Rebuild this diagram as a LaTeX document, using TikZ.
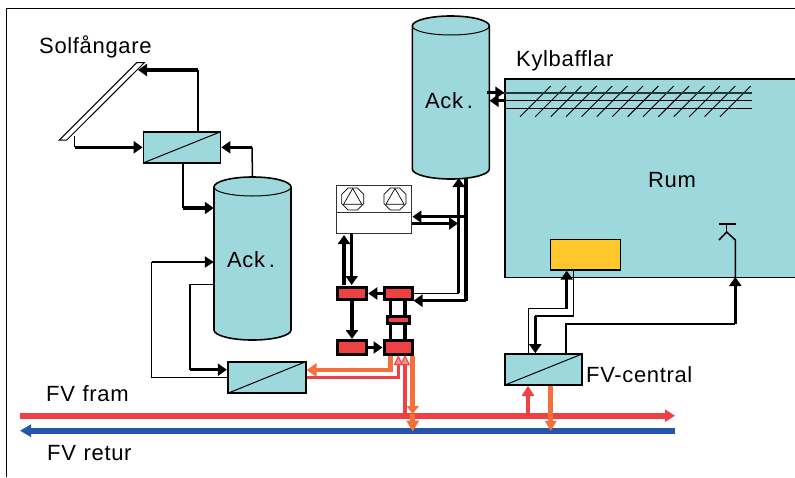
\documentclass[tikz,border=0pt]{standalone}
\usepackage{fontspec}
\setmainfont{Liberation Sans}[LetterSpace=3]
\usetikzlibrary{arrows.meta,shapes.geometric}
\definecolor{teal_f}{HTML}{9DD8DC}
\definecolor{red_f}{HTML}{EF4144}
\definecolor{orange_f}{HTML}{F4703A}
\definecolor{blue_f}{HTML}{2356A6}
\definecolor{yellow_f}{HTML}{FFC72C}
\tikzset{
  txt/.style = {inner sep=0pt, font=\fontsize{22}{24}\selectfont},
  hex/.style = {draw=black, fill=teal_f, line width=1.7pt, inner sep=0pt, minimum width=77pt, minimum height=31pt,
    path picture={\draw[line width=1pt] (path picture bounding box.south west) -- (path picture bounding box.north east);}},
  tank/.style = {draw=black, line width=1.6pt},
  tank_n/.style = {inner sep=0pt, minimum width=77pt, minimum height=163pt},
  valve/.style = {draw=black, fill=red_f, line width=3pt, inner sep=0pt},
  fan/.style = {regular polygon, regular polygon sides=8, draw=black, line width=0.7pt, inner sep=0pt, minimum size=24pt},
  fan_t/.style = {regular polygon, regular polygon sides=3, draw=black, line width=0.7pt, inner sep=0pt, minimum size=21pt},
  pipe/.style = {line width=1.5pt},
  pipe_b/.style = {line width=3.5pt, -{Triangle[length=9pt,width=12pt]}},
  pipe_h/.style = {line width=3.5pt},
}
\newcommand{\acktank}[3]{
  \node [tank_n] (#1) at (#2,#3+81.5) {};
  \draw[tank, fill=teal_f] (#2-38.5,#3+10) arc[start angle=180, end angle=0, x radius=38.5pt, y radius=10pt]
    -- (#2+38.5,#3+153) arc[start angle=0, end angle=-180, x radius=38.5pt, y radius=10pt] -- cycle;
  \draw[tank, line width=1pt] (#2-38.5,#3+10) arc[start angle=180, end angle=360, x radius=38.5pt, y radius=9pt];
}

\begin{document}
\begin{tikzpicture}[x=1pt,y=-1pt]
  \useasboundingbox (0,0) rectangle (795,477);
  \coordinate (frame_a) at (6,477);
  \coordinate (frame_b) at (6,8);
  \coordinate (frame_c) at (795,8);
  \draw[line width=1pt] (frame_a) -- (frame_b) -- (frame_c);

  % room and cooling coil
  \node [draw=black, fill=teal_f, line width=1.4pt, minimum width=295pt, minimum height=198.7pt, inner sep=0pt] (room) at (652.5,178.4) {};
  \node [txt] (rum) at (672,180) {Rum};
  \node [txt, anchor=west] (kyl) at (516,61) {Kylbafflar};
  \foreach \i in {0,...,13}
    \draw[line width=0.9pt] (520+15.38*\i,116.7) -- (550.7+15.38*\i,86);
  \coordinate (coil_a) at (751.7,92.7);
  \coordinate (coil_b) at (751.7,100.7);
  \coordinate (coil_c) at (751.7,108.7);

  % tanks
  \acktank{tank_r}{450.8}{16}
  \acktank{tank_l}{252.5}{177}
  \node [txt] (ack_r) at (449,101) {Ack\,.};
  \node [txt] (ack_l) at (251,260) {Ack\,.};
  \draw[line width=2pt, black!75!teal_f] (tank_r.east |- coil_a) -- (coil_a);
  \draw[line width=1pt] (tank_r.east |- coil_b) -- (coil_b);
  \draw[line width=1pt] (room.west |- coil_c) -- (coil_c);
  \draw[pipe_b] (487,92.7) -- (room.west |- coil_a);
  \draw[pipe_b] (room.west |- coil_b) -- (tank_r.east |- coil_b);

  % solar loop
  \coordinate (sol_a) at (59.3,140);
  \coordinate (sol_b) at (66.7,140);
  \coordinate (sol_c) at (144.3,62.7);
  \coordinate (sol_d) at (136.7,62.7);
  \draw[fill=white, line width=1pt] (sol_a) -- (sol_b) -- (sol_c) -- (sol_d) -- cycle;
  \node [txt, anchor=west] (solf) at (39,47) {Solfångare};
  \node [hex] (hx_sol) at (182,147.3) {};
  \coordinate (j_a) at (198,70);
  \coordinate (j_b) at (74.5,147.3);
  \coordinate (j_c) at (252,147.3);
  \coordinate (j_d) at (183,208);
  \draw[pipe] (hx_sol.north -| j_a) -- (j_a);
  \draw[pipe_b] (j_a) -- (138,70);
  \draw[pipe] (74.5,136) -- (j_b);
  \draw[pipe_b] (j_b) -- (hx_sol.west);
  \draw[pipe] (tank_l.north) -- (j_c);
  \draw[pipe_b] (j_c) -- (hx_sol.east);
  \draw[pipe] (hx_sol.south -| j_d) -- (j_d);
  \draw[pipe_b] (j_d) -- (tank_l.west |- j_d);

  % chiller
  \node [draw=black!80, fill=white, line width=1.4pt, minimum width=75pt, minimum height=47.6pt, inner sep=0pt] (chiller) at (374.2,209.5) {};
  \coordinate (div_a) at (336.7,212.3);
  \coordinate (div_b) at (411.7,212.3);
  \draw[line width=1.4pt, black!80] (div_a) -- (div_b);
  \node [fan] (fan_a) at (352.7,199) {};
  \node [fan] (fan_b) at (395,199) {};
  \node [fan_t] (fan_at) at (352.7,199) {};
  \node [fan_t] (fan_bt) at (395,199) {};

  % valves
  \node [valve, minimum width=29.6pt, minimum height=12pt] (v_a) at (352,293.5) {};
  \node [valve, minimum width=28pt, minimum height=12pt] (v_b) at (398,293.5) {};
  \node [valve, minimum width=29.6pt, minimum height=14pt] (v_d) at (352,347.5) {};
  \node [valve, minimum width=28pt, minimum height=14pt] (v_e) at (398,347.5) {};
  \draw[pipe_h] (390.7,301) -- (390.7,339);
  \draw[pipe_h] (405,301) -- (405,339);
  \node [valve, minimum width=22pt, minimum height=7pt] (v_c) at (398,320.3) {};
  \draw[pipe_b] (v_b.west) -- (v_a.east);
  \draw[pipe_b] (v_d.east) -- (v_e.west);
  \draw[pipe_b] (v_a.south) -- (v_d.north);
  \draw[line width=4pt, -{Triangle[length=9pt,width=12pt]}] (344,285) -- (344,235);
  \draw[pipe_b] (351.7,233) -- (351.7,285);

  % chiller, valves and upper tank
  \coordinate (j_e) at (458.7,293.3);
  \coordinate (j_f) at (466,300.7);
  \coordinate (j_v) at (466,216.7);
  \coordinate (j_w) at (458,223.5);
  \draw[pipe] (v_b.east |- j_e) -- (j_e);
  \draw[pipe_b] (j_e) -- (458.7,178);
  \draw[pipe_h] (466,178) -- (j_f);
  \draw[pipe_b] (j_f) -- (v_b.east |- j_f);
  \draw[pipe_b] (j_v) -- (chiller.east |- j_v);
  \draw[pipe_b] (chiller.east |- j_w) -- (j_w);

  % tank to lower exchanger
  \node [hex, minimum height=31.6pt, minimum width=78pt] (hx_low) at (266.7,377.5) {};
  \coordinate (j_g) at (190,284.7);
  \coordinate (j_h) at (190,369.7);
  \coordinate (j_i) at (151.7,262);
  \coordinate (j_k) at (151.7,377.3);
  \draw[pipe] (tank_l.west |- j_g) -- (j_g) -- (j_h);
  \draw[pipe_b] (j_h) -- (hx_low.west |- j_h);
  \draw[line width=2.4pt, -{Triangle[length=9pt,width=11pt]}] (j_i) -- (tank_l.west |- j_i);
  \draw[pipe] (j_i) -- (j_k) -- (hx_low.west |- j_k);

  % district heating mains
  \coordinate (fram_a) at (20,415.7);
  \coordinate (fram_b) at (675,415.7);
  \coordinate (retur_a) at (20,430.7);
  \coordinate (retur_b) at (675,430.7);
  \draw[red_f, line width=6pt, -{Triangle[length=10pt,width=12pt]}] (fram_a) -- (fram_b);
  \draw[blue_f, line width=6pt, -{Triangle[length=11pt,width=12pt]}] (retur_b) -- (retur_a);
  \node [txt, anchor=west] (fram) at (46,394) {FV\hspace{0.35em}fram};
  \node [txt, anchor=west] (retur) at (47,453) {FV\hspace{0.35em}retur};

  % district heating to valves
  \coordinate (j_l) at (390.7,370);
  \coordinate (j_m) at (398.3,377.3);
  \coordinate (j_n) at (412.7,414);
  \coordinate (j_o) at (412.7,431.7);
  \draw[orange_f, line width=4.5pt, -{Triangle[length=10pt,width=13pt]}] (v_e.south -| j_l) -- (j_l) -- (hx_low.east |- j_l);
  \draw[red_f, line width=3pt, -{Triangle[length=10pt,width=9pt,fill=white!40!red_f,line width=1pt]}] (hx_low.east |- j_m) -- (j_m) -- (398.3,355);
  \draw[red_f, line width=4.5pt, -{Triangle[length=10pt,width=10pt,fill=white!40!red_f,line width=1pt]}] (405,415.7) -- (405,355);
  \draw[orange_f, line width=4.5pt, -{Triangle[length=8pt,width=12pt]}] (v_e.south -| j_n) -- (j_n);
  \draw[orange_f, line width=4.5pt, -{Triangle[length=11pt,width=12pt]}] (j_n) -- (j_o);

  % central unit
  \node [hex, minimum height=31pt] (hx_fv) at (543.5,369.5) {};
  \node [txt, anchor=west] (fv_c) at (586,375) {FV-central};
  \coordinate (j_x) at (528,415.7);
  \coordinate (j_y) at (550.7,431);
  \draw[red_f, line width=3.5pt, -{Triangle[length=10pt,width=12pt]}] (j_x) -- (hx_fv.south -| j_x);
  \draw[orange_f, line width=4.5pt, -{Triangle[length=10pt,width=11pt]}] (hx_fv.south -| j_y) -- (j_y);

  % radiator box and tap
  \node [draw=black, fill=yellow_f, line width=1.2pt, minimum width=70.4pt, minimum height=30.7pt, inner sep=0pt] (box) at (585.5,254.7) {};
  \coordinate (j_p) at (528.3,308.7);
  \coordinate (j_q) at (566.7,308.7);
  \coordinate (j_r) at (573.3,316);
  \coordinate (j_s) at (535.3,316);
  \coordinate (j_t) at (566,324);
  \coordinate (j_u) at (735.3,324);
  \coordinate (tap_a) at (735.3,240);
  \coordinate (tap_b) at (726.7,232);
  \coordinate (tap_c) at (719,240);
  \coordinate (tap_d) at (726.7,224);
  \coordinate (tap_e) at (719,224);
  \coordinate (tap_f) at (735.7,224);
  \draw[pipe] (hx_fv.north -| j_p) -- (j_p) -- (j_q);
  \draw[pipe_b] (j_q) -- (box.south -| j_q);
  \draw[pipe] (box.south -| j_r) -- (j_r) -- (j_s);
  \draw[pipe_b] (j_s) -- (hx_fv.north -| j_s);
  \draw[pipe] (hx_fv.north -| j_t) -- (j_t) -- (j_u);
  \draw[pipe_b] (j_u) -- (735.3,277);
  \draw[pipe] (735.3,277) -- (tap_a) -- (tap_b) -- (tap_c);
  \draw[pipe] (tap_b) -- (tap_d);
  \draw[pipe] (tap_e) -- (tap_f);
\end{tikzpicture}
\end{document}
